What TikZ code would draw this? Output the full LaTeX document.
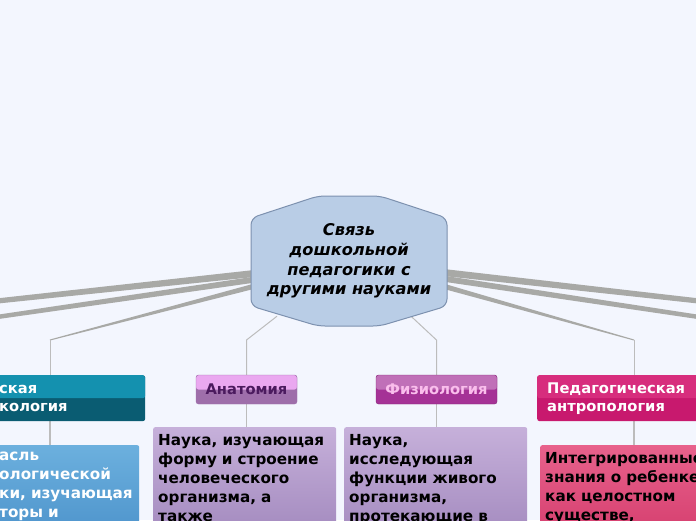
\documentclass[tikz,border=0pt]{standalone}
\usepackage{fontspec}
\setmainfont{DejaVu Sans}
\usetikzlibrary{calc,positioning}

\definecolor{paper}{RGB}{243,246,254}
\definecolor{bandgrey}{RGB}{168,169,166}
\definecolor{thingrey}{RGB}{188,188,188}
\definecolor{hubfill}{RGB}{185,205,230}
\definecolor{hubline}{RGB}{125,145,175}
\definecolor{tealtop}{RGB}{20,145,175}
\definecolor{tealbot}{RGB}{10,92,114}
\definecolor{anattop}{RGB}{234,168,240}
\definecolor{anatbot}{RGB}{158,110,170}
\definecolor{anatink}{RGB}{75,26,94}
\definecolor{physstop}{RGB}{192,112,184}
\definecolor{physbot}{RGB}{165,50,150}
\definecolor{physink}{RGB}{250,190,236}
\definecolor{anthtop}{RGB}{215,45,125}
\definecolor{anthbot}{RGB}{200,25,110}
\definecolor{bluetop}{RGB}{108,176,222}
\definecolor{bluebot}{RGB}{80,150,205}
\definecolor{liltop}{RGB}{198,176,218}
\definecolor{lilbot}{RGB}{165,140,192}
\definecolor{rosetop}{RGB}{232,98,140}
\definecolor{rosebot}{RGB}{214,64,112}

\pgfdeclarelayer{ground}
\pgfdeclarelayer{links}
\pgfdeclarelayer{shapes}
\pgfsetlayers{ground,links,shapes,main}

\tikzset{
  hub/.style={minimum width=196pt, minimum height=130pt, align=center, inner sep=0pt,
    font=\bfseries\itshape\fontsize{16.2}{19.6}\selectfont},
  topic/.style={inner sep=0pt, rounded corners=2.5pt, align=center,
    font=\bfseries\fontsize{14.7}{18}\selectfont},
  gloss/.style 2 args={fill=#2, path picture={
    \fill[#1] (path picture bounding box.north west) rectangle (path picture bounding box.east);}},
  note/.style={anchor=north west, rounded corners=2pt, inner xsep=5pt, inner ysep=7pt,
    align=left, font=\bfseries\fontsize{15.2}{19}\selectfont},
  thin link/.style={draw=thingrey, line width=1pt},
}

% tapered band from #1 to #2, half widths #3 and #4
\newcommand{\band}[4]{%
  \fill[bandgrey] ($(#1)!#3!90:(#2)$) -- ($(#2)!#4!-90:(#1)$) -- ($(#2)!#4!90:(#1)$) -- ($(#1)!#3!-90:(#2)$) -- cycle;}

\begin{document}
\begin{tikzpicture}[x=1pt,y=-1pt]
\pgfmathsetmacro{\W}{696}
\pgfmathsetmacro{\H}{520}
\useasboundingbox (0,0) rectangle (\W,\H);
\begin{pgfonlayer}{ground}
\fill[paper] (0,0) rectangle (\W,\H);
\end{pgfonlayer}

% Central topic
\node[hub] (hub) at (349,261) {Связь\\дошкольной\\педагогики с\\другими науками};
\begin{pgfonlayer}{shapes}
\draw[fill=hubfill, draw=hubline, line width=1pt, rounded corners=7pt]
  ($(hub.center)+(-98,-43)$) -- ($(hub.center)+(-31,-65)$) -- ($(hub.center)+(31,-65)$)
  -- ($(hub.center)+(98,-43)$) -- ($(hub.center)+(98,45)$) -- ($(hub.center)+(31,65)$)
  -- ($(hub.center)+(-31,65)$) -- ($(hub.center)+(-98,45)$) -- cycle;
\end{pgfonlayer}

% Subtopics
\node[topic, gloss={tealtop}{tealbot}, anchor=north west, text width=143pt, inner xsep=3pt,
  minimum height=46pt, align=left, text=white] (psych) at (-4,375) {ская\\кология};
\node[topic, gloss={anattop}{anatbot}, draw=anatbot, minimum width=101pt, minimum height=29pt,
  text=anatink] (anat) at (246.5,389.5) {Анатомия};
\node[topic, gloss={physstop}{physbot}, draw=physbot!80!black, minimum width=121pt, minimum height=29pt,
  text=physink] (phys) at (436.5,389.5) {Физиология};
\node[topic, gloss={anthtop}{anthbot}, anchor=north west, text width=180pt, inner xsep=10pt,
  minimum height=46pt, align=left, text=white] (anth) at (537,375) {Педагогическая\\антропология};

% Notes
\node[note, top color=bluetop, bottom color=bluebot, text=white, text width=137pt, inner xsep=3pt]
  (psychd) at (-4,445) {асль\\ологической\\ки, изучающая\\торы и};
\node[note, top color=liltop, bottom color=lilbot, text width=173pt]
  (anatd) at (153,427) {Наука, изучающая\\форму и строение\\человеческого\\организма, а\\также};
\node[note, top color=liltop, bottom color=lilbot, text width=173pt]
  (physd) at (344,427) {Наука,\\исследующая\\функции живого\\организма,\\протекающие в};
\node[note, top color=rosetop, bottom color=rosebot, text width=180pt]
  (anthd) at (540,445) {Интегрированные\\знания о ребенке\\как целостном\\существе,};

% Connectors
\coordinate (psychin) at ($(psych.north west)+(54,0)$);
\coordinate (anthin) at ($(anth.north west)+(97,0)$);
\coordinate (lfar1) at (-3,301);
\coordinate (lfar2) at (-3,317);
\coordinate (rfar1) at (699,301);
\coordinate (rfar2) at (699,317);
\coordinate (lbend) at (psychin |- 0,340);
\coordinate (rbend) at (anthin |- 0,340);
\coordinate (abend) at (anat.north |- 0,340);
\coordinate (pbend) at (phys.north |- 0,340);
\begin{pgfonlayer}{links}
\band{$(hub.west)+(8,12)$}{lfar1}{3.5pt}{2.6pt}
\band{$(hub.west)+(8,18)$}{lfar2}{3pt}{2.2pt}
\band{$(hub.west)+(8,24)$}{lbend}{2.6pt}{0.5pt}
\band{$(hub.east)+(-8,11)$}{rfar1}{3.5pt}{2.6pt}
\band{$(hub.east)+(-8,17)$}{rfar2}{3pt}{2.2pt}
\band{$(hub.east)+(-8,24)$}{rbend}{2.6pt}{0.5pt}
\draw[thin link] (lbend) -- (psychin);
\draw[thin link] (rbend) -- (anthin);
\draw[thin link] ($(hub.south)+(-72,-10)$) -- (abend) -- (anat.north);
\draw[thin link] ($(hub.south)+(62,-10)$) -- (pbend) -- (phys.north);
\draw[thin link, line width=1.3pt] (psychin |- psych.south) -- (psychin |- psychd.north);
\draw[thin link, line width=1.3pt] (anat.south) -- (anat.south |- anatd.north);
\draw[thin link, line width=1.3pt] (phys.south) -- (phys.south |- physd.north);
\draw[thin link, line width=1.3pt] (anthin |- anth.south) -- (anthin |- anthd.north);
\end{pgfonlayer}

\end{tikzpicture}
\end{document}
